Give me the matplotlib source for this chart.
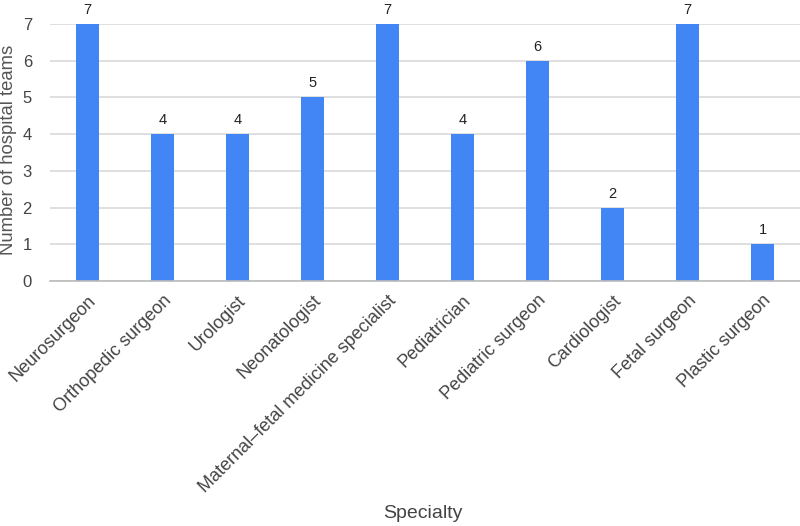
import matplotlib
matplotlib.use("Agg")
import matplotlib.pyplot as plt

categories = ["Neurosurgeon", "Orthopedic surgeon", "Urologist", "Neonatologist",
              "Maternal\u2013fetal medicine specialist", "Pediatrician", "Pediatric surgeon",
              "Cardiologist", "Fetal surgeon", "Plastic surgeon"]
values = [7, 4, 4, 5, 7, 4, 6, 2, 7, 1]
yticks = [0, 1, 2, 3, 4, 5, 6, 7]

plt.rcParams['font.family'] = ['Liberation Sans', 'DejaVu Sans']

fig = plt.figure(figsize=(8, 5.26), dpi=100)
ax = fig.add_axes([0.0625, 1 - 281/526, 0.9375, (281 - 24)/526])

x = list(range(len(categories)))
bars = ax.bar(x, values, width=0.31, color="#4285F4", zorder=3)
for xi, v in zip(x, values):
    ax.annotate(str(v), (xi, v), xytext=(0, 5), textcoords="offset points",
                ha="center", va="bottom", fontsize=10.5, color="#222222")

ax.set_xlim(-0.5, len(categories) - 0.5)
ax.set_ylim(0, 7)
ax.set_yticks(yticks)
ax.set_yticklabels([str(t) for t in yticks], fontsize=12, color="#444444")
ax.set_xticks(x)
ax.set_xticklabels(categories, rotation=45, ha="right", rotation_mode="anchor",
                   fontsize=13, color="#444444")
ax.tick_params(axis="both", length=0)
ax.tick_params(axis="y", pad=13)
ax.tick_params(axis="x", pad=8)
ax.grid(axis="y", color="#d9d9d9", linewidth=1.2, zorder=0)
for s in ["top", "right", "left"]:
    ax.spines[s].set_visible(False)
ax.spines["bottom"].set_color("#bbbbbb")
ax.spines["bottom"].set_linewidth(1.2)
ax.spines["bottom"].set_zorder(4)

fig.text(9/800, 1 - 150/526, "Number of hospital teams", rotation=90,
         ha="center", va="center", fontsize=13.3, color="#555555")
fig.text(423/800, 1 - 514/526, "Specialty", ha="center", va="center",
         fontsize=14, color="#444444")

fig.savefig("out.png", dpi=100)
